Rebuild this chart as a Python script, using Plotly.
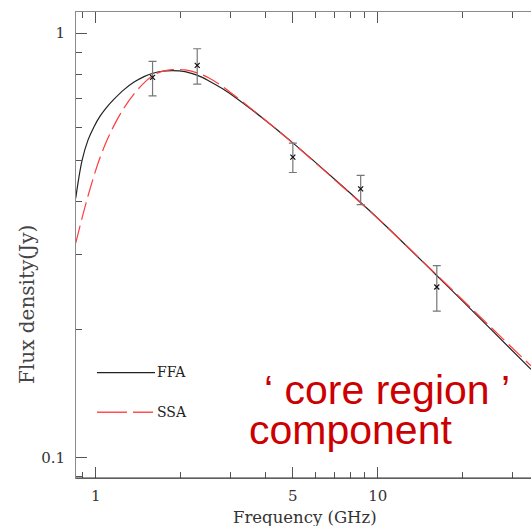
import plotly.graph_objects as go

# ---- data ----
obs_freq = [1.59, 2.29, 5.0, 8.7, 16.2]          # GHz
obs_flux = [0.786, 0.839, 0.510, 0.429, 0.252]    # Jy
obs_err_up = [0.071, 0.079, 0.040, 0.033, 0.031]
obs_err_dn = [0.075, 0.081, 0.041, 0.035, 0.031]

model_freq = [0.849, 0.8942, 0.9391, 0.9862, 1.0357, 1.0966, 1.1612, 1.2599,
              1.3675, 1.4834, 1.5969, 1.7183, 1.8643, 2.0733, 2.287, 2.5119,
              2.8184, 3.1623, 3.9811, 5.0119, 7.0795, 10.0, 15.849, 25.119, 34.97]
ffa_flux = [0.4081, 0.5012, 0.5599, 0.6015, 0.6368, 0.6698, 0.6984, 0.7355,
            0.7660, 0.7893, 0.8038, 0.8126, 0.8157, 0.8112, 0.7956, 0.7720,
            0.7385, 0.7010, 0.6239, 0.5502, 0.4505, 0.3660, 0.2719, 0.2008, 0.1612]
ssa_flux = [0.3197, 0.3666, 0.4135, 0.4613, 0.5086, 0.5593, 0.6058, 0.6662,
            0.7187, 0.7630, 0.7940, 0.8122, 0.8197, 0.8184, 0.8053, 0.7845,
            0.7478, 0.7054, 0.6245, 0.5493, 0.4493, 0.3656, 0.2728, 0.2029, 0.1642]

x_major = [1, 5, 10]
x_major_text = ["1", "5", "10"]
x_minor = [0.9, 2, 3, 4, 6, 7, 8, 9, 20, 30]
y_major = [0.1, 1]
y_major_text = ["0.1", "1"]
y_minor = [0.09, 0.2, 0.3, 0.4, 0.5, 0.6, 0.7, 0.8, 0.9]

legend_labels = ["FFA", "SSA"]
x_title = "Frequency (GHz)"
y_title = "Flux density(Jy)"
note_line1 = "‘ core region ’"
note_line2 = "component"

# ---- layout geometry (pixels) ----
W, H = 531, 526
L, R, T, B = 76, 531, 12, 478


def px(x):
    return (x - L) / (R - L)


def py(y):
    return (B - y) / (B - T)


serif = "DejaVu Serif"
sans = "Liberation Sans, Arial"

fig = go.Figure()

fig.add_trace(go.Scatter(
    x=model_freq, y=ffa_flux, mode="lines", line_shape="spline",
    line=dict(color="#222222", width=1.2, smoothing=1.0), showlegend=False,
    hoverinfo="skip"))
fig.add_trace(go.Scatter(
    x=model_freq, y=ssa_flux, mode="lines", line_shape="spline",
    line=dict(color="#ff3c3c", width=1.2, dash="18px,6px", smoothing=1.0),
    showlegend=False, hoverinfo="skip"))
fig.add_trace(go.Scatter(
    x=obs_freq, y=obs_flux, mode="markers",
    marker=dict(symbol="x-thin", size=5, line=dict(color="#111111", width=1.2)),
    error_y=dict(type="data", symmetric=False, array=obs_err_up,
                 arrayminus=obs_err_dn, color="#777777", thickness=1.2, width=4),
    showlegend=False))

fig.update_xaxes(
    type="log", range=[-0.0701, 1.5436], showgrid=False, zeroline=False,
    showline=True, linecolor="#8a8a8a", linewidth=1, mirror="ticks",
    ticks="inside", ticklen=11, tickcolor="#555555", tickwidth=1,
    tickmode="array", tickvals=x_major, ticktext=x_major_text,
    tickfont=dict(family=serif, size=15, color="#333333"), ticklabelstandoff=4,
    minor=dict(ticks="inside", ticklen=6, tickcolor="#555555", tickwidth=1,
               tickmode="array", tickvals=x_minor, showgrid=False))
fig.update_yaxes(
    type="log", range=[-1.0488, 0.0495], showgrid=False, zeroline=False,
    showline=True, linecolor="#8a8a8a", linewidth=1, mirror=False,
    ticks="inside", ticklen=11, tickcolor="#555555", tickwidth=1,
    tickmode="array", tickvals=y_major, ticktext=y_major_text,
    tickfont=dict(family=serif, size=15, color="#333333"), ticklabelstandoff=7,
    minor=dict(ticks="inside", ticklen=6, tickcolor="#555555", tickwidth=1,
               tickmode="array", tickvals=y_minor, showgrid=False))

shapes = [
    dict(type="line", xref="paper", yref="paper", x0=0, x1=1, y0=0, y1=0,
         line=dict(color="#333333", width=1.2)),
    dict(type="line", xref="paper", yref="paper", x0=px(97), x1=px(155),
         y0=py(372.7), y1=py(372.7), line=dict(color="#222222", width=1.2)),
    dict(type="line", xref="paper", yref="paper", x0=px(97), x1=px(153),
         y0=py(412.3), y1=py(412.3),
         line=dict(color="#ff5050", width=1.4, dash="30px,6px")),
]

annotations = [
    dict(text=legend_labels[0], x=px(155), y=py(372), xref="paper", yref="paper",
         xanchor="left", yanchor="middle", showarrow=False,
         font=dict(family=serif, size=14, color="#222222")),
    dict(text=legend_labels[1], x=px(155), y=py(412), xref="paper", yref="paper",
         xanchor="left", yanchor="middle", showarrow=False,
         font=dict(family=serif, size=14, color="#222222")),
    dict(text=x_title, x=px(305), y=py(517), xref="paper", yref="paper",
         xanchor="center", yanchor="middle", showarrow=False,
         font=dict(family=serif, size=16.5, color="#333333")),
    dict(text=y_title, x=px(27), y=py(305), xref="paper", yref="paper",
         xanchor="center", yanchor="middle", showarrow=False, textangle=-90,
         font=dict(family=serif, size=20, color="#444444")),
    dict(text=note_line1, x=px(262), y=py(390), xref="paper", yref="paper",
         xanchor="left", yanchor="middle", showarrow=False,
         font=dict(family=sans, size=41, color="#cc0000")),
    dict(text=note_line2, x=px(247), y=py(430), xref="paper", yref="paper",
         xanchor="left", yanchor="middle", showarrow=False,
         font=dict(family=sans, size=41, color="#cc0000")),
]

fig.update_layout(
    width=W, height=H,
    margin=dict(l=L, r=W - R, t=T, b=H - B, pad=0),
    paper_bgcolor="white", plot_bgcolor="white",
    shapes=shapes, annotations=annotations, showlegend=False)

fig.write_html("out.html")
